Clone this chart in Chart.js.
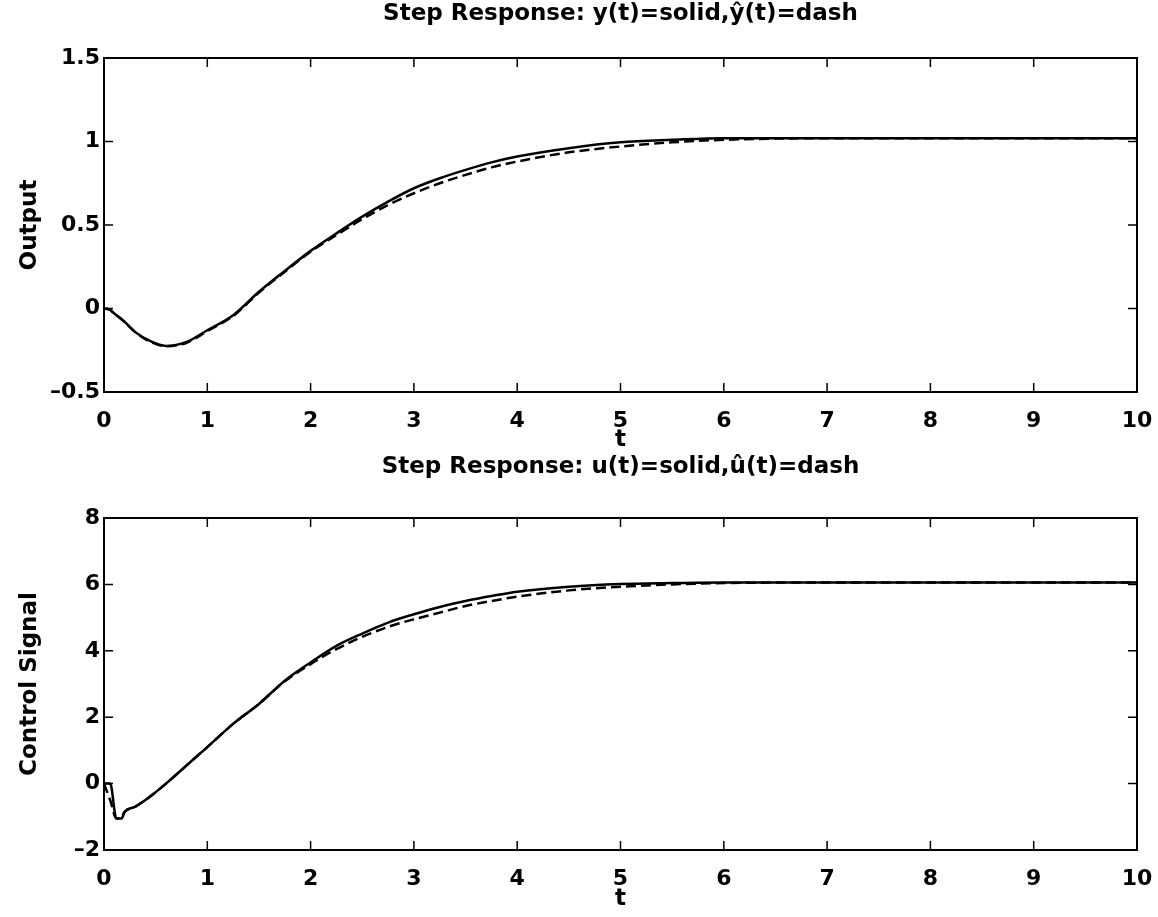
<!DOCTYPE html>
<html>
<head>
<meta charset="utf-8">
<script src="https://cdn.jsdelivr.net/npm/chart.js@4"></script>
<style>
  html, body { margin: 0; padding: 0; background: #fff; }
  #page { position: relative; width: 1158px; height: 917px; overflow: hidden; }
  canvas { display: block; position: absolute; left: 0; }
  #outputChart { top: 0; }
  #controlChart { top: 440px; }
</style>
</head>
<body>
<div id="page">
  <canvas id="outputChart" width="1158" height="458"></canvas>
  <canvas id="controlChart" width="1158" height="477"></canvas>
</div>
<script>
// Output step response: measured y(t) (solid) and model ŷ(t) (dashed)
const timeTop = [0, 0.05, 0.1, 0.2, 0.3, 0.45, 0.6, 0.8, 1.0, 1.25, 1.5, 1.75, 2.0, 2.25, 2.5, 2.75, 3.0, 3.25, 3.5, 3.75, 4.0, 4.5, 5.0, 5.5, 6.0, 7.0, 8.0, 9.0, 10.0];
const yActual = [0, -0.005, -0.03, -0.08, -0.14, -0.196, -0.224, -0.2, -0.13, -0.04, 0.1, 0.225, 0.345, 0.45, 0.55, 0.64, 0.72, 0.78, 0.83, 0.875, 0.91, 0.96, 0.995, 1.01, 1.02, 1.02, 1.02, 1.02, 1.02];
const yModel  = [0, -0.005, -0.03, -0.08, -0.14, -0.2, -0.226, -0.205, -0.135, -0.045, 0.095, 0.22, 0.34, 0.44, 0.535, 0.62, 0.69, 0.75, 0.8, 0.845, 0.88, 0.935, 0.97, 0.995, 1.01, 1.02, 1.02, 1.02, 1.02];

// Control signal step response: u(t) (solid) and û(t) (dashed)
const timeBottom = [0, 0.06, 0.12, 0.17, 0.2, 0.3, 0.45, 0.6, 0.8, 1.0, 1.25, 1.5, 1.75, 2.0, 2.25, 2.5, 2.75, 3.0, 3.25, 3.5, 3.75, 4.0, 4.5, 5.0, 5.5, 6.0, 7.0, 8.0, 9.0, 10.0];
const uActual = [0, 0, -1.05, -1.05, -0.85, -0.7, -0.38, 0.0, 0.55, 1.1, 1.8, 2.4, 3.1, 3.65, 4.15, 4.52, 4.85, 5.1, 5.32, 5.5, 5.65, 5.78, 5.93, 6.01, 6.04, 6.06, 6.06, 6.06, 6.06, 6.06];
const uModel  = [0, -0.5, -1.05, -1.0, -0.85, -0.7, -0.38, 0.0, 0.55, 1.1, 1.8, 2.4, 3.08, 3.6, 4.05, 4.42, 4.72, 4.95, 5.15, 5.35, 5.5, 5.63, 5.82, 5.93, 6.0, 6.04, 6.06, 6.06, 6.06, 6.06];

// Axis ticks
const timeTicks = [0, 1, 2, 3, 4, 5, 6, 7, 8, 9, 10];
const outputTicks = [-0.5, 0, 0.5, 1, 1.5];
const controlTicks = [-2, 0, 2, 4, 6, 8];

const FONT = 'DejaVu Sans';
const tickFont = { family: FONT, weight: 'bold', size: 22 };
const labelFont = { family: FONT, weight: 'bold', size: 23, lineHeight: 1 };

// Boxed axes with inward tick marks on all four sides, plus a title centred over the plot
const framePlugin = {
  id: 'frame',
  afterDatasetsDraw(chart, args, opts) {
    const { ctx, chartArea: { left, right, top, bottom }, scales: { x, y } } = chart;
    const len = 9;
    ctx.save();
    ctx.strokeStyle = '#000';
    ctx.lineWidth = 1.5;
    ctx.beginPath();
    x.ticks.forEach(t => {
      const px = x.getPixelForValue(t.value);
      ctx.moveTo(px, bottom); ctx.lineTo(px, bottom - len);
      ctx.moveTo(px, top); ctx.lineTo(px, top + len);
    });
    y.ticks.forEach(t => {
      const py = y.getPixelForValue(t.value);
      ctx.moveTo(left, py); ctx.lineTo(left + len, py);
      ctx.moveTo(right, py); ctx.lineTo(right - len, py);
    });
    ctx.stroke();
    ctx.lineWidth = 2;
    ctx.strokeRect(left, top, right - left, bottom - top);

    ctx.fillStyle = '#000';
    ctx.font = `bold 23px "${FONT}"`;
    ctx.textAlign = 'center';
    ctx.textBaseline = 'middle';
    ctx.fillText(opts.text, (left + right) / 2, opts.y);
    ctx.restore();
  }
};

function fmt(v) {
  return (v < 0 ? '\u2013' : '') + String(Math.abs(v));
}

function makeChart(id, title, titleY, yLabel, t, solid, dashed, yTicks, padTop, xHeight) {
  const toPoints = arr => arr.map((v, i) => ({ x: t[i], y: v }));
  return new Chart(document.getElementById(id), {
    type: 'line',
    data: {
      datasets: [
        { data: toPoints(solid), borderColor: '#000', borderWidth: 2.5, pointRadius: 0, cubicInterpolationMode: 'monotone', fill: false },
        { data: toPoints(dashed), borderColor: '#000', borderWidth: 2.5, borderDash: [10, 5], pointRadius: 0, cubicInterpolationMode: 'monotone', fill: false }
      ]
    },
    options: {
      responsive: false,
      animation: false,
      devicePixelRatio: 1,
      layout: { padding: { left: 0, right: 21, top: padTop, bottom: 0 } },
      plugins: {
        legend: { display: false },
        tooltip: { enabled: false },
        title: { display: false },
        frame: { text: title, y: titleY }
      },
      scales: {
        x: {
          type: 'linear', min: 0, max: 10,
          afterBuildTicks: s => { s.ticks = timeTicks.map(v => ({ value: v })); },
          afterFit: s => { s.height = xHeight; s.paddingLeft = 0; s.paddingRight = 0; },
          grid: { display: false, drawTicks: false },
          border: { display: false },
          ticks: { color: '#000', font: tickFont, padding: 16, maxRotation: 0, autoSkip: false, callback: v => fmt(v) },
          title: { display: true, text: 't', color: '#000', font: labelFont, padding: { top: 0, bottom: 6 } }
        },
        y: {
          type: 'linear', min: yTicks[0], max: yTicks[yTicks.length - 1],
          afterBuildTicks: s => { s.ticks = yTicks.map(v => ({ value: v })); },
          afterFit: s => { s.width = 104; s.paddingTop = 0; s.paddingBottom = 0; },
          grid: { display: false, drawTicks: false },
          border: { display: false },
          ticks: { color: '#000', font: tickFont, padding: 4, autoSkip: false, callback: v => fmt(v) },
          title: { display: true, text: yLabel, color: '#000', font: labelFont, padding: { top: 19, bottom: 0 } }
        }
      }
    },
    plugins: [framePlugin]
  });
}

makeChart('outputChart', 'Step Response: y(t)=solid,\u0177(t)=dash', 14, 'Output',
  timeTop, yActual, yModel, outputTicks, 58, 66);
makeChart('controlChart', 'Step Response: u(t)=solid,\u00fb(t)=dash', 27, 'Control Signal',
  timeBottom, uActual, uModel, controlTicks, 78, 67);
</script>
</body>
</html>
